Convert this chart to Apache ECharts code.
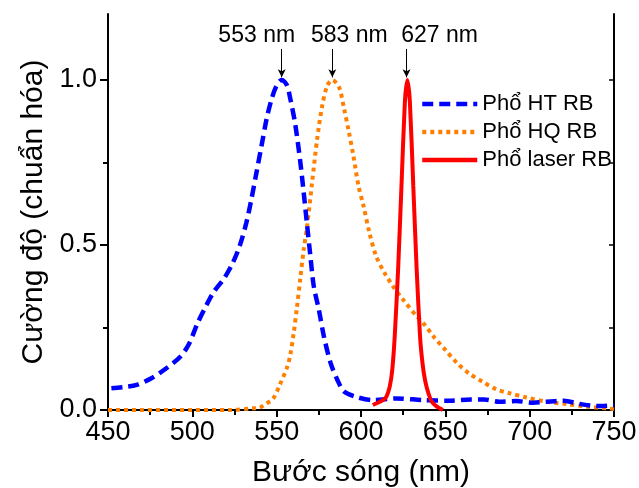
<!DOCTYPE html>
<html>
<head>
<meta charset="utf-8">
<script src="https://cdn.jsdelivr.net/npm/echarts@6/dist/echarts.min.js"></script>
<style>html,body{margin:0;padding:0;background:#fff}#c{width:639px;height:488px}</style>
</head>
<body>
<div id="c"></div>
<script>
// ---- data ----
const seriesNames = ['Phổ HT RB', 'Phổ HQ RB', 'Phổ laser RB'];
const htWavelength = [452,460,467,476,485,493,498,503,508,513,519,524,528,532,535,538,541,544,547,550,553,556,558,561,564,566,568,570,572,575,578,582,586,590,597,607,621,637,653,665,673,682,692,702,710,720,730,740,750];
const htIntensity  = [0.066,0.070,0.076,0.097,0.128,0.162,0.200,0.262,0.314,0.360,0.400,0.446,0.496,0.567,0.638,0.719,0.800,0.881,0.942,0.983,1.000,0.985,0.945,0.866,0.752,0.660,0.562,0.466,0.375,0.304,0.223,0.142,0.091,0.056,0.040,0.030,0.035,0.030,0.028,0.032,0.032,0.025,0.027,0.022,0.025,0.028,0.018,0.012,0.014];
const hqWavelength = [450,470,500,522,536,540,544,548,552,556,558,560,562,564,566,568,571,574,577,580,583,587,590,592.5,595.5,598.5,601.5,605,609,614,619,625,633,637,643,650,657,664,672,680,688,698,710,722,734,746,750];
const hqIntensity  = [0.000,0.000,0.000,0.000,0.005,0.007,0.020,0.035,0.078,0.127,0.165,0.230,0.310,0.398,0.485,0.555,0.689,0.821,0.922,0.983,1.000,0.978,0.912,0.851,0.770,0.679,0.618,0.537,0.466,0.415,0.375,0.334,0.284,0.263,0.223,0.182,0.142,0.111,0.086,0.063,0.051,0.038,0.025,0.018,0.010,0.005,0.003];
const laserWavelength = [607,610,613,615,617,618.5,620,622,624,626,627.5,629,631,633,635,636.5,638,640,642,645,648.5];
const laserIntensity  = [0.015,0.022,0.030,0.040,0.070,0.120,0.223,0.426,0.679,0.932,1.000,0.932,0.679,0.426,0.223,0.140,0.090,0.050,0.025,0.010,0.000];
const peakWavelengths = [553, 583, 627];
const peakLabels = ['553 nm', '583 nm', '627 nm'];
const xTickLabels = [450, 500, 550, 600, 650, 700, 750];
const yTickLabels = [0.0, 0.5, 1.0];
const yMinorTicks = [0.25, 0.75];

// ---- build ----
const zip = (a, b) => a.map((v, i) => [v, b[i]]);
const FONT = 'Liberation Sans, Arial, sans-serif';
const labelOffsets = [[-25, 0], [17, 0], [33, 0]];

const chart = echarts.init(document.getElementById('c'), null, {renderer: 'canvas'});
const axisLine = {show: true, lineStyle: {color: '#000', width: 2}};

chart.setOption({
  backgroundColor: '#fff',
  animation: false,
  grid: {left: 108, right: 25, top: 14, bottom: 78, containLabel: false, outerBoundsMode: 'none'},
  legend: {
    data: seriesNames.map(n => ({name: n, icon: 'inherit'})),
    orient: 'vertical',
    left: 415, top: 88,
    itemWidth: 55, itemHeight: 18, itemGap: 6,
    itemStyle: {opacity: 0, borderWidth: 0},
    lineStyle: {width: 4.5},
    textStyle: {fontFamily: FONT, fontSize: 22, color: '#000', lineHeight: 22}
  },
  xAxis: [{
    type: 'value', min: 450, max: 750, interval: 50,
    axisLine: axisLine,
    axisTick: {show: true, inside: false, length: 7, lineStyle: {width: 2, color: '#000'}},
    minorTick: {show: true, splitNumber: 2, length: 5, lineStyle: {width: 2, color: '#000'}},
    axisLabel: {show: true, fontFamily: FONT, fontSize: 27, color: '#000', margin: 9,
      customValues: xTickLabels},
    splitLine: {show: false},
    name: 'Bước sóng (nm)', nameLocation: 'middle', nameGap: 48,
    nameTextStyle: {fontFamily: FONT, fontSize: 30, color: '#000'}
  }, {
    type: 'value', min: 450, max: 750, interval: 25, position: 'top',
    axisLine: axisLine,
    axisTick: {show: true, inside: true, length: 5, lineStyle: {width: 1.5, color: '#000'}},
    axisLabel: {show: false}, splitLine: {show: false}
  }],
  yAxis: [{
    type: 'value', min: 0, max: 1.2, interval: 0.5,
    axisLine: axisLine,
    axisTick: {show: true, inside: false, length: 8, lineStyle: {width: 2, color: '#000'}, customValues: yTickLabels},
    axisLabel: {show: true, fontFamily: FONT, fontSize: 27, color: '#000', margin: 11,
      customValues: yTickLabels, formatter: v => v.toFixed(1)},
    splitLine: {show: false},
    name: 'Cường độ (chuẩn hóa)', nameLocation: 'middle', nameGap: 58, nameRotate: 90,
    nameTextStyle: {fontFamily: FONT, fontSize: 30, color: '#000'}
  }, {
    type: 'value', min: 0, max: 1.2, position: 'left', offset: 0,
    axisLine: {show: false},
    axisTick: {show: true, inside: false, length: 5, lineStyle: {width: 2, color: '#000'}, customValues: yMinorTicks},
    axisLabel: {show: false}, splitLine: {show: false}
  }, {
    type: 'value', min: 0, max: 1.2, position: 'right',
    axisLine: axisLine,
    axisTick: {show: true, inside: true, length: 5, lineStyle: {width: 1.5, color: '#000'},
      customValues: [0, 0.25, 0.5, 0.75, 1.0]},
    axisLabel: {show: false}, splitLine: {show: false}
  }],
  series: [{
    name: seriesNames[0], type: 'line', data: zip(htWavelength, htIntensity),
    showSymbol: false, symbol: 'none', smooth: 0.3,
    lineStyle: {color: '#0000ff', width: 4.5, type: [11, 6], cap: 'butt'},
    itemStyle: {color: '#0000ff'}, z: 3
  }, {
    name: seriesNames[1], type: 'line', data: zip(hqWavelength, hqIntensity),
    showSymbol: false, symbol: 'none', smooth: 0.3,
    lineStyle: {color: '#ff8000', width: 4, type: [4, 4], cap: 'butt'},
    itemStyle: {color: '#ff8000'}, z: 2
  }, {
    name: seriesNames[2], type: 'line', data: zip(laserWavelength, laserIntensity),
    showSymbol: false, symbol: 'none', smooth: 0.2,
    lineStyle: {color: '#ff0000', width: 4, type: 'solid'},
    itemStyle: {color: '#ff0000'}, z: 4
  }, {
    name: 'annotations', type: 'line', data: [], silent: true,
    markLine: {
      silent: true, animation: false,
      symbol: ['none', 'arrow'], symbolSize: [6, 8],
      lineStyle: {color: '#000', width: 1, type: 'solid'},
      label: {show: false},
      data: peakWavelengths.map(p => [{coord: [p, 1.094]}, {coord: [p, 1.008]}])
    },
    markPoint: {
      silent: true, animation: false,
      symbol: 'circle', symbolSize: 0,
      data: peakWavelengths.map((p, i) => ({
        coord: [p, 1.135],
        label: {show: true, position: 'inside', formatter: peakLabels[i], offset: labelOffsets[i],
          fontFamily: FONT, fontSize: 23, color: '#000'}
      }))
    }
  }]
});
</script>
</body>
</html>
